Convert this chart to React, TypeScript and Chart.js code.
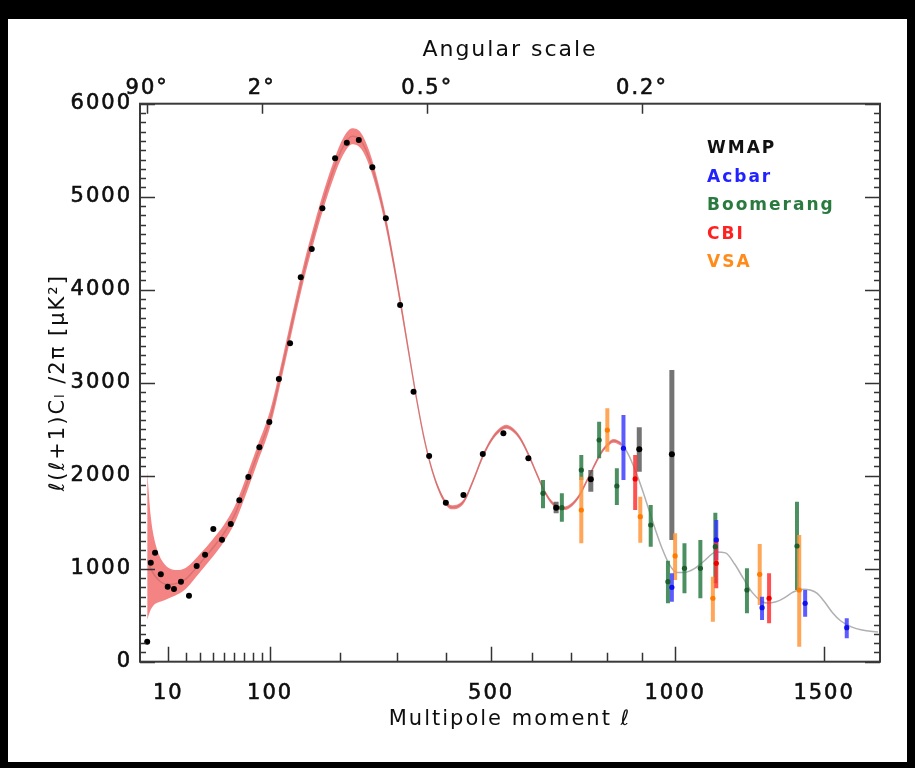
import React, { useEffect, useRef } from 'react';
import { Chart, registerables, LinearScale } from 'chart.js';

Chart.register(...registerables);

// ---------- x axis: l^0.6 mapping (as in the reference) ----------
const POW = 0.6;
class PowerScale extends LinearScale {
  static id = 'power';
  static defaults = {};
  configure() {
    super.configure();
    const a = Math.pow(this.min, POW);
    const b = Math.pow(this.max, POW);
    (this as any)._pA = a;
    (this as any)._pR = b - a;
  }
  getPixelForValue(value: any) {
    if (value === null || value === undefined || isNaN(value)) return NaN;
    const self = this as any;
    return this.getPixelForDecimal((Math.pow(value, POW) - self._pA) / self._pR);
  }
  getValueForPixel(pixel: number) {
    const self = this as any;
    return Math.pow(self._pA + this.getDecimalForPixel(pixel) * self._pR, 1 / POW);
  }
}
Chart.register(PowerScale as any);

// ---------- axes ----------
const X_MIN = 0.522;
const X_MAX = 1708;
const X_LABELED = [10, 100, 500, 1000, 1500];
const X_MINOR = [20, 30, 40, 50, 60, 70, 80, 90, 200, 300, 400, 600, 700, 800, 900];
const TOP_TICKS = [2, 90, 360, 900];
const TOP_LABELS = ['90°', '2°', '0.5°', '0.2°'];
const Y_MIN = 0;
const Y_MAX = 6000;
const Y_MAJOR_STEP = 1000;
const Y_MINOR_STEP = 100;

// ---------- theory curve ----------
const TH_L = [2, 3, 4, 5, 7, 10, 15, 20, 30, 40, 50, 60, 70, 85, 100, 115, 130, 145, 160, 175, 190, 205, 220, 235, 250, 265, 280, 295, 310, 325, 340, 355, 370, 385, 400, 412, 425, 440, 460, 480, 500, 520, 536, 550, 570, 590, 610, 630, 650, 670, 685, 700, 720, 740, 760, 780, 800, 818, 840, 860, 880, 900, 920, 940, 960, 980, 1005, 1030, 1060, 1090, 1130, 1160, 1190, 1220, 1250, 1280, 1300, 1330, 1360, 1390, 1425, 1450, 1475, 1500, 1530, 1560, 1600, 1640, 1700];
const TH_V = [1100, 1000, 940, 900, 850, 830, 845, 890, 1060, 1220, 1380, 1570, 1830, 2230, 2610, 3150, 3700, 4200, 4620, 4990, 5300, 5540, 5650, 5600, 5400, 5090, 4710, 4250, 3760, 3260, 2780, 2370, 2060, 1840, 1700, 1660, 1670, 1740, 1960, 2200, 2380, 2490, 2527, 2500, 2400, 2230, 2030, 1840, 1710, 1655, 1650, 1680, 1770, 1920, 2080, 2230, 2330, 2375, 2340, 2230, 2060, 1860, 1640, 1420, 1220, 1060, 960, 960, 1000, 1080, 1180, 1170, 1050, 890, 740, 650, 630, 645, 690, 750, 778, 770, 735, 650, 530, 440, 375, 340, 320];
const BAND_L = [2, 3, 4, 5, 7, 10, 15, 20, 30, 40, 50, 60, 70, 85, 100, 115, 130, 145, 160, 175, 190, 205, 220, 235, 250, 265, 280, 295, 310, 325, 340, 355, 370, 385, 400, 412, 425, 440, 460, 480, 500, 520, 536, 550, 570, 590, 610, 630, 650, 670, 685, 700, 720, 740, 760, 780, 800, 818, 840];
const BAND_HI = [2050, 1560, 1340, 1220, 1090, 1010, 985, 1010, 1160, 1315, 1470, 1660, 1920, 2320, 2700, 3240, 3790, 4290, 4710, 5080, 5390, 5630, 5735, 5685, 5480, 5160, 4775, 4305, 3810, 3300, 2815, 2400, 2085, 1865, 1722, 1682, 1692, 1762, 1982, 2222, 2402, 2512, 2549, 2522, 2422, 2252, 2050, 1860, 1730, 1675, 1670, 1700, 1790, 1940, 2100, 2250, 2350, 2395, 2360];
const BAND_LO = [450, 560, 610, 630, 650, 680, 725, 785, 965, 1125, 1290, 1480, 1740, 2140, 2520, 3060, 3610, 4110, 4530, 4900, 5210, 5450, 5565, 5515, 5320, 5020, 4645, 4195, 3710, 3220, 2745, 2340, 2035, 1815, 1678, 1638, 1648, 1718, 1938, 2178, 2358, 2468, 2505, 2478, 2378, 2208, 2010, 1820, 1690, 1635, 1630, 1660, 1750, 1900, 2060, 2210, 2310, 2355, 2320];
const BAND_END = 840;

// ---------- data ----------
const WMAP_L = [2, 3, 4.4, 6.6, 9.7, 12.9, 16.9, 22, 27.4, 33.8, 40.6, 48.3, 56.6, 65.2, 74.8, 87.2, 99.1, 111, 125.7, 140.4, 156.2, 172.1, 191.9, 210.9, 231.1, 254.8, 279.3, 306.2, 332.4, 363.9, 398.9, 437.1, 480.8, 529.1, 590.1, 661, 754, 892, 990];
const WMAP_V = [215, 1065, 1172, 940, 806, 782, 860, 710, 1029, 1151, 1427, 1312, 1481, 1735, 1986, 2305, 2577, 3040, 3424, 4133, 4437, 4875, 5413, 5581, 5610, 5316, 4768, 3835, 2903, 2212, 1710, 1792, 2233, 2456, 2187, 1656, 1961, 2284, 2230];
const WMAP_ERR_L = [661, 754, 892, 990];
const WMAP_ERR_LO = [1596, 1828, 2043, 1309];
const WMAP_ERR_HI = [1720, 2061, 2520, 3137];

const ACBAR_L = [846, 990, 1130, 1282, 1432, 1583];
const ACBAR_V = [2295, 800, 1309, 581, 628, 366];
const ACBAR_LO = [1954, 645, 1094, 448, 484, 252];
const ACBAR_HI = [2653, 950, 1524, 699, 771, 467];

const BOOM_L = [627, 676, 728, 777, 827, 926, 978, 1029, 1079, 1127, 1231, 1403];
const BOOM_V = [1811, 1656, 2061, 2384, 1889, 1470, 860, 1004, 1004, 1237, 771, 1244];
const BOOM_LO = [1649, 1505, 1954, 2187, 1685, 1237, 628, 735, 682, 843, 520, 771];
const BOOM_HI = [1954, 1811, 2223, 2581, 2080, 1685, 1086, 1273, 1309, 1602, 1004, 1720];

const CBI_L = [880, 1130, 1306];
const CBI_V = [1965, 1058, 682];
const CBI_LO = [1631, 789, 413];
const CBI_HI = [2223, 1327, 950];

const VSA_L = [728, 800, 895, 1000, 1119, 1274, 1411];
const VSA_V = [1631, 2491, 1559, 1137, 682, 940, 771];
const VSA_LO = [1273, 2258, 1280, 878, 430, 610, 161];
const VSA_HI = [1989, 2725, 1774, 1381, 914, 1266, 1362];

const LEGEND_NAMES = ['WMAP', 'Acbar', 'Boomerang', 'CBI', 'VSA'];
const LEGEND_COLORS = ['#111111', '#2222ff', '#2a7a40', '#ff2020', '#ff8c1a'];

const FONT_FAMILY = '"DejaVu Sans", sans-serif';
const TEXT_COLOR = '#0e0e0e';

const pts = (ls: number[], vs: number[]) => ls.map((l, i) => ({ x: l, y: vs[i] }));
const bars = (ls: number[], lo: number[], hi: number[]) => {
  const out: any[] = [];
  ls.forEach((l, i) => {
    out.push({ x: l, y: lo[i] }, { x: l, y: hi[i] }, { x: l, y: null });
  });
  return out;
};

const letterSpacingPlugin = {
  id: 'letterSpacing',
  beforeDraw(chart: any) {
    (chart.ctx as any).letterSpacing = '2px';
  },
};

const frameTicksPlugin = {
  id: 'frameTicks',
  afterDraw(chart: any) {
    const { ctx, chartArea: a, scales } = chart;
    const x = scales.x;
    const y = scales.y;
    ctx.save();
    ctx.strokeStyle = '#333';
    ctx.lineWidth = 1.5;
    ctx.beginPath();
    X_LABELED.forEach((v) => {
      const p = Math.round(x.getPixelForValue(v)) + 0.5;
      ctx.moveTo(p, a.bottom);
      ctx.lineTo(p, a.bottom - 15);
    });
    X_MINOR.forEach((v) => {
      const p = Math.round(x.getPixelForValue(v)) + 0.5;
      ctx.moveTo(p, a.bottom);
      ctx.lineTo(p, a.bottom - 9);
    });
    TOP_TICKS.forEach((v) => {
      const p = Math.round(x.getPixelForValue(v)) + 0.5;
      ctx.moveTo(p, a.top);
      ctx.lineTo(p, a.top + 10);
    });
    for (let v = Y_MIN; v <= Y_MAX; v += Y_MINOR_STEP) {
      const p = Math.round(y.getPixelForValue(v)) + 0.5;
      const len = v % Y_MAJOR_STEP === 0 ? 15 : 6;
      ctx.moveTo(a.left, p);
      ctx.lineTo(a.left + len, p);
      ctx.moveTo(a.right, p);
      ctx.lineTo(a.right - len, p);
    }
    ctx.stroke();
    ctx.lineWidth = 2;
    ctx.strokeStyle = '#3a3a3a';
    ctx.strokeRect(a.left, a.top, a.right - a.left, a.bottom - a.top);
    ctx.restore();

    // legend
    ctx.save();
    (ctx as any).letterSpacing = '2px';
    ctx.font = `bold 17px ${FONT_FAMILY}`;
    ctx.textAlign = 'left';
    ctx.textBaseline = 'middle';
    LEGEND_NAMES.forEach((n, i) => {
      ctx.fillStyle = LEGEND_COLORS[i];
      ctx.fillText(n, a.right - 173, a.top + 45.3 + i * 28.4);
    });
    ctx.restore();
  },
};

export default function App() {
  const ref = useRef<HTMLCanvasElement | null>(null);
  useEffect(() => {
    if (!ref.current) return;
    const font = { family: FONT_FAMILY, size: 21 };
    const common = { xAxisID: 'x', yAxisID: 'y' };
    const barSet = (data: any[], color: string, order: number, width = 4) => ({
      ...common,
      type: 'line',
      data,
      borderColor: color,
      borderWidth: width,
      borderCapStyle: 'butt',
      pointRadius: 0,
      spanGaps: false,
      fill: false,
      order,
    });
    const ptSet = (data: any[], color: string, order: number, r = 2.6) => ({
      ...common,
      type: 'line',
      data,
      showLine: false,
      pointRadius: r,
      pointBackgroundColor: color,
      pointBorderColor: color,
      pointBorderWidth: 0,
      order,
    });
    const tickStroke = { textStrokeColor: TEXT_COLOR, textStrokeWidth: 0.6 };
    const chart = new Chart(ref.current, {
      type: 'line',
      data: {
        datasets: [
          {
            ...common,
            data: pts(BAND_L, BAND_HI),
            borderWidth: 0,
            pointRadius: 0,
            fill: '+1',
            backgroundColor: 'rgb(244,132,132)',
            borderColor: 'rgba(0,0,0,0)',
            cubicInterpolationMode: 'monotone',
            order: 20,
          },
          {
            ...common,
            data: pts(BAND_L, BAND_LO),
            borderWidth: 0,
            pointRadius: 0,
            fill: false,
            borderColor: 'rgba(0,0,0,0)',
            cubicInterpolationMode: 'monotone',
            order: 21,
          },
          {
            ...common,
            data: pts(TH_L, TH_V),
            borderWidth: 1.5,
            pointRadius: 0,
            fill: false,
            cubicInterpolationMode: 'monotone',
            borderColor: '#aaaaaa',
            segment: {
              borderColor: (c: any) => (c.p0.parsed.x < BAND_END ? 'rgba(175,85,85,0.4)' : '#b0b0b0'),
            },
            order: 15,
          },
          barSet(bars(WMAP_ERR_L, WMAP_ERR_LO, WMAP_ERR_HI), 'rgba(70,70,70,0.75)', 10, 5),
          barSet(bars(BOOM_L, BOOM_LO, BOOM_HI), 'rgba(45,125,70,0.85)', 9),
          barSet(bars(VSA_L, VSA_LO, VSA_HI), 'rgba(255,150,60,0.85)', 8),
          barSet(bars(ACBAR_L, ACBAR_LO, ACBAR_HI), 'rgba(50,50,255,0.8)', 7),
          barSet(bars(CBI_L, CBI_LO, CBI_HI), 'rgba(255,50,50,0.85)', 6),
          ptSet(pts(BOOM_L, BOOM_V), '#1d5e2e', 4),
          ptSet(pts(VSA_L, VSA_V), '#ff7a00', 3),
          ptSet(pts(ACBAR_L, ACBAR_V), '#1010ee', 3),
          ptSet(pts(CBI_L, CBI_V), '#ee0000', 2),
          ptSet(pts(WMAP_L, WMAP_V), '#000000', 1, 3),
        ] as any,
      },
      options: {
        animation: false,
        responsive: false,
        devicePixelRatio: 1,
        layout: { padding: { left: 0, right: 27, top: 0, bottom: 0 } },
        plugins: { legend: { display: false }, tooltip: { enabled: false } },
        scales: {
          x: {
            type: 'power',
            position: 'bottom',
            min: X_MIN,
            max: X_MAX,
            grid: { display: false, drawTicks: false },
            border: { display: false },
            ticks: {
              autoSkip: false,
              maxRotation: 0,
              padding: 19,
              font,
              color: TEXT_COLOR,
              ...tickStroke,
              callback: (v: any) => String(v),
            },
            afterBuildTicks: (s: any) => {
              s.ticks = X_LABELED.map((v) => ({ value: v }));
            },
            afterFit: (s: any) => {
              s.height = 100.3;
            },
            title: {
              display: true,
              text: 'Multipole moment ℓ',
              font,
              color: TEXT_COLOR,
              padding: { top: 0, bottom: 29.5 },
            },
          },
          x2: {
            type: 'power',
            position: 'top',
            min: X_MIN,
            max: X_MAX,
            grid: { display: false, drawTicks: false },
            border: { display: false },
            ticks: {
              autoSkip: false,
              maxRotation: 0,
              padding: 3,
              font,
              color: TEXT_COLOR,
              ...tickStroke,
              callback: (_v: any, i: number) => TOP_LABELS[i],
            },
            afterBuildTicks: (s: any) => {
              s.ticks = TOP_TICKS.map((v) => ({ value: v }));
            },
            afterFit: (s: any) => {
              s.height = 84.7;
            },
            title: {
              display: true,
              text: 'Angular scale',
              font: { family: FONT_FAMILY, size: 22 },
              color: TEXT_COLOR,
              padding: { top: 18, bottom: 0 },
            },
          },
          y: {
            type: 'linear',
            min: Y_MIN,
            max: Y_MAX,
            grid: { display: false, drawTicks: false },
            border: { display: false },
            ticks: {
              stepSize: Y_MAJOR_STEP,
              padding: 8,
              font,
              color: TEXT_COLOR,
              ...tickStroke,
              callback: (v: any) => String(v),
            },
            afterFit: (s: any) => {
              s.width = 132;
            },
            title: {
              display: true,
              text: 'ℓ(ℓ+1)Cₗ /2π [μK²]',
              font,
              color: TEXT_COLOR,
              padding: { top: 38.4, bottom: 0 },
            },
          },
        } as any,
      },
      plugins: [letterSpacingPlugin, frameTicksPlugin],
    } as any);
    return () => chart.destroy();
  }, []);

  return (
    <div style={{ position: 'absolute', left: 0, top: 0, width: 915, height: 768, background: '#000', overflow: 'hidden' }}>
      <canvas
        ref={ref}
        width={899}
        height={743}
        style={{ position: 'absolute', left: 8, top: 19, width: 899, height: 743, background: '#fff' }}
      />
    </div>
  );
}
